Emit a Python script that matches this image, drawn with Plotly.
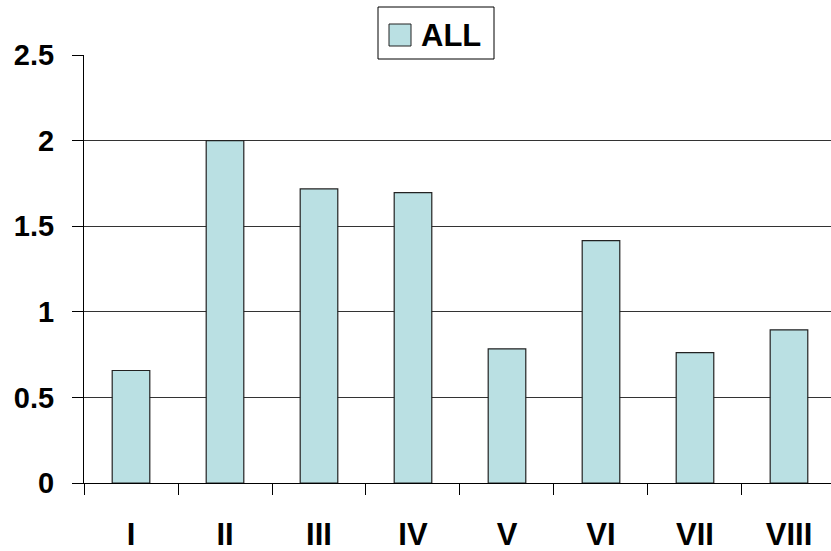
import plotly.graph_objects as go

categories = ["I", "II", "III", "IV", "V", "VI", "VII", "VIII"]
values = [0.657, 2.0, 1.718, 1.696, 0.784, 1.416, 0.762, 0.895]
series_name = "ALL"
y_ticks = [0, 0.5, 1, 1.5, 2, 2.5]
y_tick_labels = ["0", "0.5", "1", "1.5", "2", "2.5"]

FONT = "Liberation Sans, Arial, sans-serif"
BAR_COLOR = "rgb(186,224,227)"

W, H = 831, 551
L, R, T, B = 84, 0, 55, 68
PW, PH = W - L - R, H - T - B


def px_x(px):
    return (px - L) / PW


def px_y(py):
    return (H - B - py) / PH


fig = go.Figure()
fig.add_trace(go.Bar(
    x=categories,
    y=values,
    name=series_name,
    width=0.4,
    marker=dict(color=BAR_COLOR, line=dict(color="#222222", width=1.2)),
    showlegend=False,
))

# Legend drawn as a box with a swatch and a text label
fig.add_shape(type="rect", xref="paper", yref="paper",
              x0=px_x(378), x1=px_x(494), y0=px_y(59), y1=px_y(7),
              fillcolor="white", line=dict(color="black", width=1), layer="above")
fig.add_shape(type="rect", xref="paper", yref="paper",
              x0=px_x(389), x1=px_x(411), y0=px_y(46), y1=px_y(24),
              fillcolor=BAR_COLOR, line=dict(color="#222222", width=1), layer="above")
fig.add_annotation(xref="paper", yref="paper", x=px_x(419), y=px_y(35),
                   xanchor="left", yanchor="middle", showarrow=False,
                   text="<b>" + series_name + "</b>",
                   font=dict(family=FONT, size=31, color="black"))

fig.update_layout(
    width=W,
    height=H,
    margin=dict(l=L, r=R, t=T, b=B, autoexpand=False),
    plot_bgcolor="white",
    paper_bgcolor="white",
    font=dict(family=FONT, size=22, color="black"),
    showlegend=False,
    bargap=0.6,
)

fig.update_xaxes(
    type="category",
    range=[-0.5, 7.447],
    automargin=False,
    showline=True, linecolor="black", linewidth=1,
    ticks="outside", ticklen=11, tickcolor="black", tickwidth=1,
    tickson="boundaries",
    showgrid=False,
    tickfont=dict(family=FONT, size=31, color="black", weight="bold"),
    ticklabelstandoff=24,
)
fig.update_yaxes(
    range=[0, 2.5],
    automargin=False,
    tickvals=y_ticks,
    ticktext=y_tick_labels,
    showline=True, linecolor="black", linewidth=1,
    ticks="outside", ticklen=11, tickcolor="black", tickwidth=1,
    showgrid=True, gridcolor="#333333", gridwidth=1,
    zeroline=False,
    tickfont=dict(family=FONT, size=29, color="black", weight="bold"),
    ticklabelstandoff=12,
)

fig.write_html(
    "out.html",
    config={"displayModeBar": False},
    post_script="document.body.style.margin='0px';document.body.style.padding='0px';",
)
